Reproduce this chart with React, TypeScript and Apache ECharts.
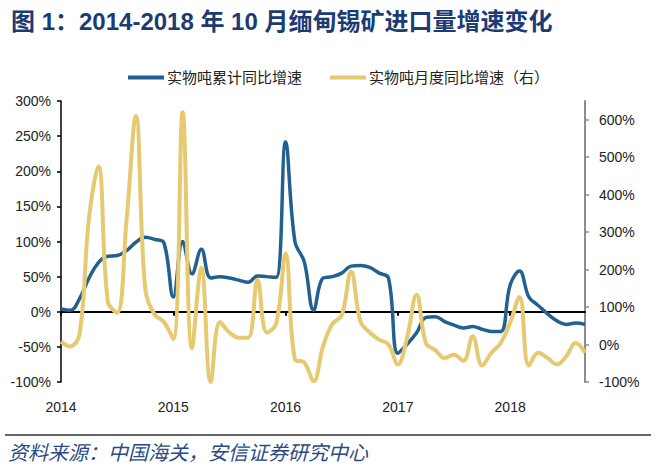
import React, { useEffect, useRef } from "react";
import * as echarts from "echarts";

const titleText = "图 1：2014-2018 年 10 月缅甸锡矿进口量增速变化";
const sourceText = "资料来源：中国海关，安信证券研究中心";
const seriesNames = ["实物吨累计同比增速", "实物吨月度同比增速（右）"];

const years = ["2014", "2015", "2016", "2017", "2018"];
const monthsInLastYear = 9;

// 实物吨累计同比增速 (%), left axis
const cumulativeYoY = [
  4, 2, 19, 48, 70, 79, 80, 87, 99, 106, 103, 98,
  21, 100, 54, 89, 48, 50, 48, 45, 42, 51, 50, 49,
  242, 100, 71, 2, 48, 50, 55, 65, 66, 63, 55, 48,
  -59, -46, -30, -8, -7, -14, -19, -23, -21, -25, -28, -28,
  38, 58, 21, 9, -3, -13, -18, -16, -18,
];

// 实物吨月度同比增速 (%), right axis
const monthlyYoY = [
  8, -5, 30, 340, 475, 115, 85, 330, 610, 150, 80, 60,
  15, 620, -10, 205, -100, 60, 32, 18, 18, 173, 32, 56,
  243, -40, -48, -98, -5, 55, 78, 195, 62, 32, 13, 0,
  -53, 20, 133, 4, -15, -36, -27, -44, 22, -56, -22, 4,
  58, 127, -56, -22, -36, -53, -31, 4, -22,
];

const leftTicks = [-100, -50, 0, 50, 100, 150, 200, 250, 300];
const rightTicks = [-100, 0, 100, 200, 300, 400, 500, 600];

const categories: string[] = [];
years.forEach((y, yi) => {
  const n = yi === years.length - 1 ? monthsInLastYear : 12;
  for (let m = 1; m <= n; m++) categories.push(`${y}-${String(m).padStart(2, "0")}`);
});

const BLUE = "#22618F";
const YELLOW = "#E6C970";
const FONT = "'Liberation Sans', 'Noto Sans CJK SC', sans-serif";

export default function App() {
  const ref = useRef<HTMLDivElement>(null);
  useEffect(() => {
    if (!ref.current) return;
    const chart = echarts.init(ref.current, null, { renderer: "svg" });
    const yearTick = (idx: number) => idx % 12 === 0;
    chart.setOption({
      animation: false,
      backgroundColor: "#ffffff",
      title: {
        text: titleText,
        left: 6,
        top: 4,
        textStyle: {
          fontSize: 24,
          fontWeight: "bold",
          color: "#1C3B73",
          fontFamily: FONT,
        },
      },
      legend: {
        left: 123,
        top: 65,
        itemWidth: 36,
        itemHeight: 4,
        itemGap: 28,
        icon: "rect",
        textStyle: { fontSize: 15, color: "#222", fontFamily: FONT, padding: [0, 0, 0, -2] },
        data: seriesNames,
      },
      grid: { left: 61, right: 71, top: 101, bottom: 86, containLabel: false },
      xAxis: [
        {
          type: "category",
          data: categories,
          boundaryGap: false,
          axisLine: { onZero: true, onZeroAxisIndex: 0, lineStyle: { color: "#000", width: 2 } },
          axisTick: { show: true, interval: yearTick, length: 4, lineStyle: { color: "#000", width: 2 } },
          axisLabel: { show: false },
          splitLine: { show: false },
        },
        {
          type: "category",
          data: categories,
          boundaryGap: false,
          position: "bottom",
          axisLine: { show: false, onZero: false },
          axisTick: { show: false },
          axisLabel: {
            interval: yearTick,
            formatter: (v: string) => v.slice(0, 4),
            margin: 18,
            fontSize: 14,
            color: "#222",
            fontFamily: FONT,
          },
          splitLine: { show: false },
        },
      ],
      yAxis: [
        {
          type: "value",
          min: -100,
          max: 300,
          interval: 50,
          axisLine: { show: true, lineStyle: { color: "#000", width: 1.5 } },
          axisTick: { show: true, length: 4, customValues: leftTicks, lineStyle: { color: "#000", width: 1.5 } },
          axisLabel: {
            customValues: leftTicks,
            formatter: (v: number) => `${v}%`,
            margin: 10,
            fontSize: 14,
            color: "#222",
            fontFamily: FONT,
          },
          splitLine: { show: false },
        },
        {
          type: "value",
          min: -100,
          max: 650,
          interval: 100,
          position: "right",
          axisLine: { show: true, lineStyle: { color: "#8c8c8c", width: 2 } },
          axisTick: { show: true, length: 4, customValues: rightTicks, lineStyle: { color: "#8c8c8c", width: 1.5 } },
          axisLabel: {
            customValues: rightTicks,
            formatter: (v: number) => `${v}%`,
            margin: 14,
            fontSize: 14,
            color: "#222",
            fontFamily: FONT,
          },
          splitLine: { show: false },
        },
      ],
      series: [
        {
          name: seriesNames[0],
          type: "line",
          xAxisIndex: 0,
          yAxisIndex: 0,
          data: cumulativeYoY,
          smooth: 0.4,
          symbol: "none",
          lineStyle: { color: BLUE, width: 3.5 },
          itemStyle: { color: BLUE },
        },
        {
          name: seriesNames[1],
          type: "line",
          xAxisIndex: 0,
          yAxisIndex: 1,
          data: monthlyYoY,
          smooth: 0.4,
          symbol: "none",
          lineStyle: { color: YELLOW, width: 4 },
          itemStyle: { color: YELLOW },
        },
      ],
      graphic: [
        {
          type: "line",
          shape: { x1: 5, y1: 435, x2: 651, y2: 435 },
          style: { stroke: "#333", lineWidth: 1.5 },
        },
        {
          type: "text",
          left: 8,
          top: 441,
          style: {
            text: sourceText,
            fontSize: 20,
            fontStyle: "italic",
            fill: "#2B4A84",
            fontFamily: "'Noto Sans CJK SC', sans-serif",
          },
        },
      ],
    });
    return () => chart.dispose();
  }, []);
  return (
    <div
      ref={ref}
      style={{ position: "fixed", left: 0, top: 0, width: 656, height: 468, background: "#fff" }}
    />
  );
}
